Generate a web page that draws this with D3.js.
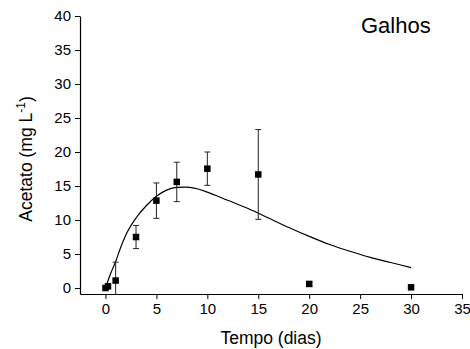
<!DOCTYPE html>
<html>
<head>
<meta charset="utf-8">
<script src="https://cdn.jsdelivr.net/npm/d3@7"></script>
<style>
  html, body { margin: 0; padding: 0; background: #fff; }
  svg { display: block; font-family: "Liberation Sans", Arial, sans-serif; }
</style>
</head>
<body>
<svg id="chart" width="470" height="349"></svg>
<script>
// Measured acetate (mean and standard deviation) over time
const days    = [0, 0.25, 1, 3, 5, 7, 10, 15, 20, 30];
const acetate = [0, 0.25, 1.1, 7.5, 12.85, 15.6, 17.55, 16.7, 0.6, 0.1];
const stdDev  = [0, 0, 2.7, 1.7, 2.6, 2.9, 2.45, 6.6, 0.35, 0];

// Fitted model curve
const fitDays    = [0, 0.5, 1, 1.5, 2, 3, 4, 5, 6, 7, 8, 9, 10, 12, 14, 16, 18, 20, 22, 24, 26, 28, 30];
const fitAcetate = [0, 2.1, 3.9, 6.0, 7.8, 10.3, 12.1, 13.5, 14.4, 14.8, 14.85, 14.6, 14.1, 12.9, 11.7, 10.3, 8.9, 7.6, 6.4, 5.4, 4.5, 3.75, 3.0];

const xTicks = [0, 5, 10, 15, 20, 25, 30, 35];
const yTicks = [0, 5, 10, 15, 20, 25, 30, 35, 40];

const svg = d3.select("#chart");

const x = d3.scaleLinear().domain([-2.5, 35]).range([80, 462]);
const y = d3.scaleLinear().domain([-0.88, 40]).range([294, 16]);

// clip so error bars stop at the axes
svg.append("clipPath").attr("id", "plotClip")
  .append("rect").attr("x", 80).attr("y", 0).attr("width", 390).attr("height", 294);

const xAxis = svg.append("g")
  .attr("transform", "translate(0,294)")
  .call(d3.axisBottom(x).tickValues(xTicks).tickSizeOuter(0).tickSizeInner(5).tickPadding(4));
const yAxis = svg.append("g")
  .attr("transform", "translate(80,0)")
  .call(d3.axisLeft(y).tickValues(yTicks).tickSizeOuter(0).tickSizeInner(5).tickPadding(4));

[xAxis, yAxis].forEach(g => {
  g.selectAll("path.domain").attr("stroke", "#000").attr("stroke-width", 1.2);
  g.selectAll(".tick line").attr("stroke", "#000").attr("stroke-width", 1);
  g.selectAll(".tick text")
    .attr("fill", "#000")
    .style("font-family", "Liberation Sans, Arial, sans-serif")
    .style("font-size", "15px");
});

const plot = svg.append("g").attr("clip-path", "url(#plotClip)");

// fitted curve
plot.append("path")
  .datum(fitDays.map((d, i) => [d, fitAcetate[i]]))
  .attr("fill", "none")
  .attr("stroke", "#000")
  .attr("stroke-width", 1.2)
  .attr("d", d3.line().curve(d3.curveMonotoneX).x(d => x(d[0])).y(d => y(d[1])));

// error bars
const pts = days.map((d, i) => ({ t: d, v: acetate[i], e: stdDev[i] })).filter(p => p.e > 0);
const eb = plot.selectAll("g.err").data(pts).join("g").attr("class", "err")
  .attr("stroke", "#222").attr("stroke-width", 1);
eb.append("line")
  .attr("x1", d => x(d.t)).attr("x2", d => x(d.t))
  .attr("y1", d => y(d.v - d.e)).attr("y2", d => y(d.v + d.e));
eb.append("line")
  .attr("x1", d => x(d.t) - 3).attr("x2", d => x(d.t) + 3)
  .attr("y1", d => y(d.v + d.e)).attr("y2", d => y(d.v + d.e));
eb.append("line")
  .attr("x1", d => x(d.t) - 3).attr("x2", d => x(d.t) + 3)
  .attr("y1", d => y(d.v - d.e)).attr("y2", d => y(d.v - d.e));

// square markers
const s = 6.5;
svg.selectAll("rect.pt").data(days).join("rect").attr("class", "pt")
  .attr("x", (d) => x(d) - s / 2)
  .attr("y", (d, i) => y(acetate[i]) - s / 2)
  .attr("width", s).attr("height", s)
  .attr("fill", "#000");

// axis titles
svg.append("text")
  .attr("x", 271).attr("y", 344)
  .attr("text-anchor", "middle")
  .style("font-size", "17.5px")
  .text("Tempo (dias)");

const yl = svg.append("text")
  .attr("transform", "translate(32,159) rotate(-90)")
  .attr("text-anchor", "middle")
  .style("font-size", "17.5px");
yl.append("tspan").text("Acetato (mg L");
yl.append("tspan").attr("dy", -7).style("font-size", "12px").text("-1");
yl.append("tspan").attr("dy", 7).text(")");

// panel title
svg.append("text")
  .attr("x", 361).attr("y", 33)
  .style("font-size", "22px")
  .text("Galhos");
</script>
</body>
</html>
